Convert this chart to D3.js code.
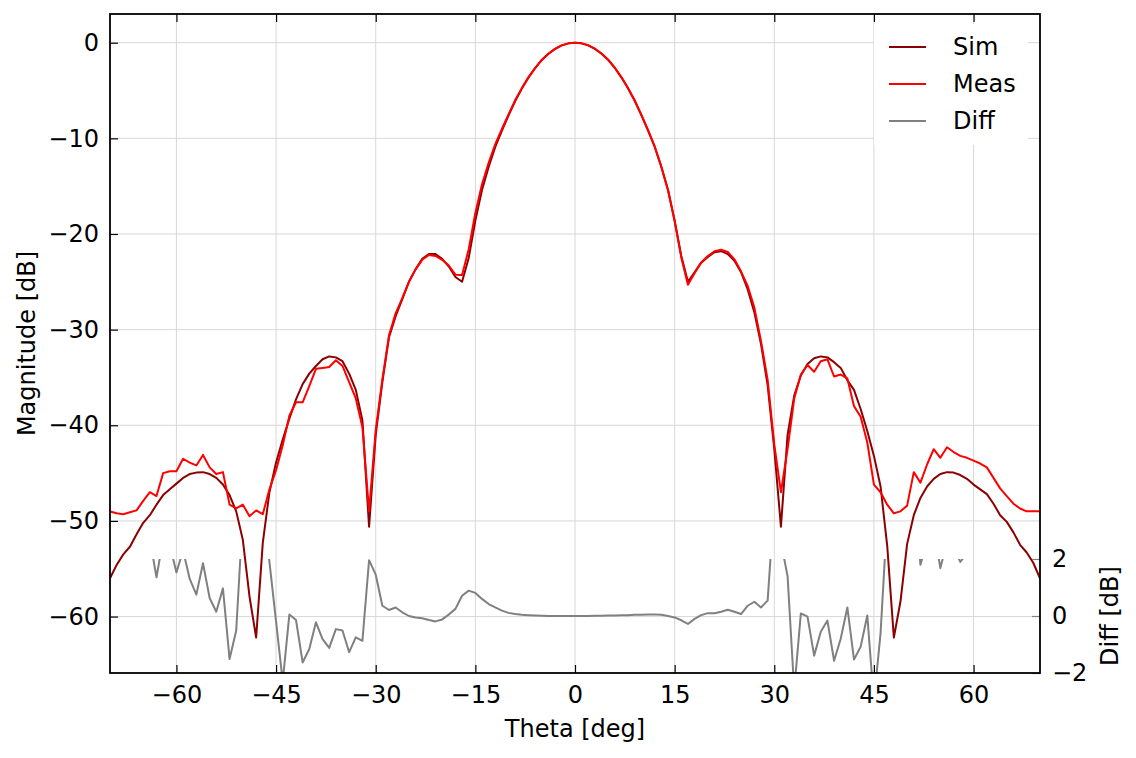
<!DOCTYPE html>
<html>
<head>
<meta charset="utf-8">
<script src="https://cdn.jsdelivr.net/npm/d3@7"></script>
<style>
  body { margin: 0; background: #fff; }
  text { font-family: "DejaVu Sans", sans-serif; }
</style>
</head>
<body>
<div id="my_dataviz"></div>
<script>
// angle grid, 1 deg steps
var theta = d3.range(-70, 71);

// simulated pattern [dB]
var sim = [
  -56.0, -54.6, -53.5, -52.7, -51.4, -50.2, -49.4, -48.3, -47.3, -46.7,
  -46.1, -45.5, -45.1, -44.95, -44.9, -45.1, -45.5, -46.2, -47.3, -49.0,
  -52.0, -57.9, -62.2, -52.3, -47.0, -43.9, -41.5, -39.3, -37.3, -35.7,
  -34.6, -33.8, -33.1, -32.8, -32.9, -33.3, -34.6, -36.3, -39.5, -50.6,
  -41.0, -35.5, -30.8, -28.6, -26.8, -25.0, -23.7, -22.6, -22.1, -22.1,
  -22.6, -23.4, -24.5, -25.0, -22.5, -18.6, -15.4, -13.0, -10.9, -9.2,
  -7.6, -6.1, -4.8, -3.65, -2.65, -1.8, -1.15, -0.65, -0.28, -0.07,
  0,
  -0.07, -0.28, -0.65, -1.15, -1.8, -2.65, -3.65, -4.8, -6.1, -7.6,
  -9.2, -10.9, -13.0, -15.4, -18.6, -22.3, -25.0, -24.0, -23.0, -22.4,
  -21.9, -21.8, -22.1, -22.8, -24.0, -25.8, -28.2, -31.5, -35.8, -42.5,
  -50.6, -41.0, -36.9, -34.8, -33.6, -33.0, -32.8, -32.9, -33.4, -34.0,
  -35.3, -36.3, -38.3, -40.6, -43.2, -46.4, -52.6, -62.2, -58.4, -52.4,
  -49.4, -47.6, -46.4, -45.6, -45.1, -44.9, -44.95, -45.2, -45.6, -46.2,
  -46.7, -47.2, -48.2, -49.4, -50.1, -51.2, -52.5, -53.3, -54.4, -56.0
];

// measured pattern [dB]
var meas = [
  -49.0, -49.2, -49.3, -49.1, -48.9, -47.9, -47.0, -47.4, -45.0, -44.8,
  -44.8, -43.5, -43.9, -44.2, -43.1, -44.4, -45.1, -44.9, -48.3, -48.7,
  -48.3, -49.5, -48.9, -49.3, -46.7, -44.7, -42.1, -39.0, -37.6, -37.6,
  -35.9, -34.1, -34.0, -33.9, -33.2, -33.8, -35.5, -37.2, -40.2, -49.0,
  -40.5, -35.2, -30.6, -28.3, -26.7, -25.0, -23.7, -22.7, -22.2, -22.3,
  -22.7, -23.3, -24.25, -24.3, -21.6, -17.8, -14.8, -12.55, -10.6, -9.0,
  -7.5, -6.0, -4.75, -3.6, -2.65, -1.8, -1.15, -0.65, -0.28, -0.07,
  0,
  -0.07, -0.27, -0.63, -1.13, -1.77, -2.62, -3.62, -4.76, -6.05, -7.55,
  -9.15, -10.85, -12.96, -15.4, -18.65, -22.45, -25.3, -24.1, -22.97, -22.3,
  -21.8, -21.65, -21.88, -22.65, -23.93, -25.44, -27.7, -31.2, -35.26, -42.0,
  -47.0, -42.5, -37.2, -34.7, -33.7, -34.4, -33.3, -33.1, -34.9, -34.7,
  -35.1, -38.0, -39.1, -41.8, -46.2, -47.0, -48.3, -49.2, -49.0, -48.4,
  -44.9, -46.0, -44.1, -42.5, -43.4, -42.3, -42.8, -43.2, -43.4, -43.7,
  -44.0, -44.4, -45.5, -46.6, -47.4, -48.2, -48.7, -49.0, -49.0, -49.0
];

// difference [dB], shown on the small axis at the bottom (-2..2)
var diff = [
  7.0, 5.4, 4.2, 3.6, 2.5, 2.3, 2.7, 1.36, 2.7, 2.5,
  1.53, 2.3, 1.30, 0.75, 1.85, 0.63, 0.15, 0.97, -1.51, -0.51,
  3.6, 8.5, 13.0, 4.0, 1.9, -0.2, -2.3, 0.05, -0.14, -1.63,
  -1.16, -0.22, -0.81, -1.12, -0.46, -0.51, -1.27, -0.75, -0.87, 1.96,
  1.45, 0.36, 0.21, 0.3, 0.13, 0.0, -0.05, -0.08, -0.14, -0.19,
  -0.12, 0.05, 0.25, 0.71, 0.89, 0.81, 0.6, 0.42, 0.3, 0.19,
  0.11, 0.07, 0.04, 0.03, 0.02, 0.01, 0.0, 0.0, 0.0, 0.0,
  0.0,
  0.0, 0.0, 0.01, 0.01, 0.02, 0.02, 0.03, 0.03, 0.04, 0.04,
  0.05, 0.05, 0.04, 0.0, -0.05, -0.15, -0.28, -0.1, 0.03, 0.1,
  0.1, 0.15, 0.22, 0.15, 0.07, 0.36, 0.5, 0.3, 0.54, 4.0,
  2.6, 1.4, -2.6, 0.09, -0.02, -1.39, -0.55, -0.16, -1.57, -0.8,
  0.3, -1.53, -1.08, 0.02, -3.0, -0.6, 3.5, 13.0, 9.0, 4.0,
  4.5, 1.8, 2.6, 3.1, 1.68, 2.6, 2.4, 1.9, 2.2, 2.5,
  2.7, 2.8, 2.7, 2.8, 2.7, 3.0, 3.8, 4.3, 5.4, 7.0
];

var xTicks = [-60, -45, -30, -15, 0, 15, 30, 45, 60];
var yTicks = [0, -10, -20, -30, -40, -50, -60];
var diffTicks = [-2, 0, 2];

var series = [
  {name: "Sim", values: sim, color: "#8b0000"},
  {name: "Meas", values: meas, color: "#ff0000"}
];

var W = 1136, H = 758;
var margin = {top: 14, right: 96, bottom: 85, left: 110},
    width = W - margin.left - margin.right,
    height = H - margin.top - margin.bottom;
var fs = 24;

var svg = d3.select("#my_dataviz")
    .append("svg")
    .attr("width", W)
    .attr("height", H)
    .append("g")
    .attr("transform", "translate(" + margin.left + "," + margin.top + ")");

var x = d3.scaleLinear().domain([-70, 70]).range([0, width]);
var y = d3.scaleLinear().domain([-65.9, 3.0]).range([height, 0]);
// diff axis sits in the bottom strip of the plot
var diffTop = 545;
var yd = d3.scaleLinear().domain([-2, 2]).range([height, diffTop]);

svg.append("clipPath").attr("id", "clipMain")
  .append("rect").attr("width", width).attr("height", height);
svg.append("clipPath").attr("id", "clipDiff")
  .append("rect").attr("y", diffTop).attr("width", width).attr("height", height - diffTop);

// grid
svg.append("g").selectAll("line").data(xTicks).enter().append("line")
  .attr("x1", d => x(d)).attr("x2", d => x(d))
  .attr("y1", 0).attr("y2", height)
  .attr("stroke", "#d8d8d8").attr("stroke-width", 1);
svg.append("g").selectAll("line").data(yTicks).enter().append("line")
  .attr("x1", 0).attr("x2", width)
  .attr("y1", d => y(d)).attr("y2", d => y(d))
  .attr("stroke", "#d8d8d8").attr("stroke-width", 1);

// lines
var line = d3.line()
  .x((d, i) => x(theta[i]))
  .y(d => y(d));

svg.append("g").attr("clip-path", "url(#clipMain)")
  .selectAll("path").data(series).enter().append("path")
  .attr("d", d => line(d.values))
  .attr("fill", "none")
  .attr("stroke", d => d.color)
  .attr("stroke-width", 2)
  .attr("stroke-linejoin", "round");

var diffLine = d3.line()
  .x((d, i) => x(theta[i]))
  .y(d => yd(d));

svg.append("path")
  .attr("clip-path", "url(#clipDiff)")
  .attr("d", diffLine(diff))
  .attr("fill", "none")
  .attr("stroke", "#808080")
  .attr("stroke-width", 2)
  .attr("stroke-linejoin", "round");

// axes: inward ticks on all sides
var xb = svg.append("g").attr("transform", "translate(0," + height + ")")
  .call(d3.axisBottom(x).tickValues(xTicks).tickSize(-8).tickPadding(13).tickFormat(d3.format("d")));
var xt = svg.append("g")
  .call(d3.axisTop(x).tickValues(xTicks).tickSize(-8).tickFormat(""));
var yl = svg.append("g")
  .call(d3.axisLeft(y).tickValues(yTicks).tickSize(-8).tickPadding(11).tickFormat(d3.format("d")));
var yr = svg.append("g").attr("transform", "translate(" + width + ",0)")
  .call(d3.axisRight(yd).tickValues(diffTicks).tickSize(-8).tickPadding(12).tickFormat(d3.format("d")));

[xb, xt, yl, yr].forEach(function (g) {
  g.select(".domain").remove();
  g.selectAll("line").attr("stroke", "#000").attr("stroke-width", 1.2);
  g.selectAll("text").attr("font-size", fs).attr("fill", "#000")
    .style("font-family", "DejaVu Sans");
});
yr.selectAll("line").attr("stroke", "#808080");

// frame
svg.append("rect")
  .attr("width", width).attr("height", height)
  .attr("fill", "none").attr("stroke", "#000").attr("stroke-width", 1.8);

// axis labels
svg.append("text")
  .attr("x", width / 2).attr("y", height + 64)
  .attr("text-anchor", "middle").attr("font-size", fs)
  .text("Theta [deg]");
svg.append("text")
  .attr("transform", "translate(" + (27 - margin.left) + "," + (height / 2) + ") rotate(-90)")
  .attr("text-anchor", "middle").attr("dominant-baseline", "central").attr("font-size", fs)
  .text("Magnitude [dB]");
svg.append("text")
  .attr("transform", "translate(" + (width + 70) + "," + ((height + diffTop) / 2) + ") rotate(-90)")
  .attr("text-anchor", "middle").attr("dominant-baseline", "central").attr("font-size", fs)
  .text("Diff [dB]");

// legend
var legendItems = [
  {name: "Sim", color: "#8b0000"},
  {name: "Meas", color: "#ff0000"},
  {name: "Diff", color: "#808080"}
];
var lg = svg.append("g").attr("transform", "translate(" + (874 - margin.left) + "," + (24 - margin.top) + ")");
lg.append("rect").attr("width", 154).attr("height", 121).attr("fill", "#fff");
var li = lg.selectAll("g").data(legendItems).enter().append("g")
  .attr("transform", (d, i) => "translate(0," + (23 + i * 37) + ")");
li.append("line").attr("x1", 15).attr("x2", 52)
  .attr("stroke", d => d.color).attr("stroke-width", 2);
li.append("text").attr("x", 79).attr("dominant-baseline", "central")
  .attr("font-size", fs).text(d => d.name);
</script>
</body>
</html>
